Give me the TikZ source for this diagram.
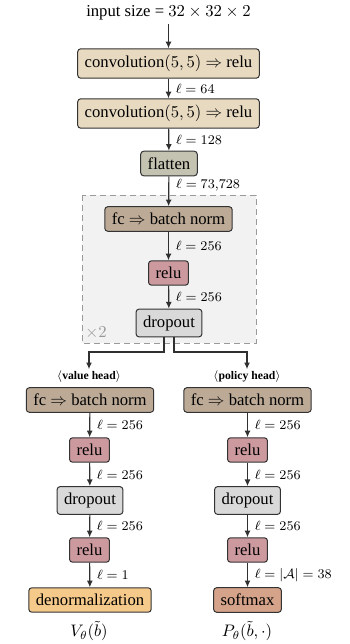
\documentclass[tikz,border=0pt]{standalone}
\usepackage[no-math]{fontspec}
\setmainfont{Liberation Serif}
\usetikzlibrary{arrows.meta}
\definecolor{cconv}{HTML}{E8D9C1}
\definecolor{cflat}{HTML}{C4C3B2}
\definecolor{cfc}{HTML}{BCAA97}
\definecolor{crelu}{HTML}{CC9A9E}
\definecolor{cdrop}{HTML}{D9D9D9}
\definecolor{cdenorm}{HTML}{F5C98A}
\definecolor{csoft}{HTML}{D4A38A}
\definecolor{cborder}{HTML}{333333}
\definecolor{cline}{HTML}{303030}
\definecolor{crep}{HTML}{F2F2F2}
\definecolor{crepline}{HTML}{9A9A9A}
\begin{document}
\begin{tikzpicture}[x=0.6pt,y=-0.6pt,
  box/.style={draw=cborder, rounded corners=1.8pt, line width=0.6pt, inner xsep=4.2pt, inner ysep=3.8pt, font=\normalsize},
  arr/.style={draw=cline, line width=0.7pt, -{Latex[length=4pt,width=3.6pt]}},
  lab/.style={font=\footnotesize, right, inner sep=2pt, xshift=2pt},
  headlab/.style={font=\scriptsize\bfseries, inner sep=1pt},
  reslab/.style={inner sep=0pt}
]
\useasboundingbox (0,0) rectangle (349,644);
% repeated block background
\draw[crepline, fill=crep, line width=0.6pt, dash pattern=on 3.5pt off 2.5pt] (82,195) rectangle (256,343);
\node[text=gray!80, anchor=west, inner sep=0pt] (rep) at (85,333) {$\times 2$};

\node[inner sep=2pt] (in) at (168.5,13) {input size = $32\times 32\times 2$};
\node[box, fill=cconv] (c1) at (168.5,63.5) {convolution$(5,5)$ $\Rightarrow$ relu};
\node[box, fill=cconv] (c2) at (168.5,113.5) {convolution$(5,5)$ $\Rightarrow$ relu};
\node[box, fill=cflat] (fl) at (169,163.5) {flatten};
\node[box, fill=cfc] (fc) at (168.5,219) {fc $\Rightarrow$ batch norm};
\node[box, fill=crelu] (r) at (168.5,273) {relu};
\node[box, fill=cdrop] (d) at (169,323) {dropout};

\draw[arr] (in) -- (c1);
\draw[arr] (c1) -- node[lab] {$\ell = 64$} (c2);
\draw[arr] (c2) -- node[lab] {$\ell = 128$} (fl);
\draw[arr] (fl) -- node[lab, pos=0.3] {$\ell = 73{,}728$} (fc);
\draw[arr] (fc) -- node[lab] {$\ell = 256$} (r);
\draw[arr] (r) -- node[lab] {$\ell = 256$} (d);

% value head
\node[headlab] (vh) at (89,377) {$\langle$value head$\rangle$};
\node[box, fill=cfc] (vfc) at (90,400) {fc $\Rightarrow$ batch norm};
\node[box, fill=crelu] (vr1) at (89.5,450) {relu};
\node[box, fill=cdrop] (vd) at (90,500.5) {dropout};
\node[box, fill=crelu] (vr2) at (89.5,550) {relu};
\node[box, fill=cdenorm] (vout) at (90,600) {denormalization};
\node[reslab] (vres) at (89,631) {$V_\theta(\tilde b)$};

% policy head
\node[headlab] (ph) at (247,377) {$\langle$policy head$\rangle$};
\node[box, fill=cfc] (pfc) at (247.5,400) {fc $\Rightarrow$ batch norm};
\node[box, fill=crelu] (pr1) at (247.5,450) {relu};
\node[box, fill=cdrop] (pd) at (247.5,500.5) {dropout};
\node[box, fill=crelu] (pr2) at (247.5,550) {relu};
\node[box, fill=csoft] (pout) at (247.5,600) {softmax};
\node[reslab] (pres) at (247,631) {$P_\theta(\tilde b,\cdot)$};

\coordinate (vturn) at (89,352);
\coordinate (pturn) at (247,352);
\draw[arr] ([xshift=-3pt]d.south) |- (vturn) -- (vh.north);
\draw[arr] ([xshift=3pt]d.south) |- (pturn) -- (ph.north);

\draw[arr] (vfc) -- node[lab] {$\ell = 256$} (vr1);
\draw[arr] (vr1) -- node[lab] {$\ell = 256$} (vd);
\draw[arr] (vd) -- node[lab] {$\ell = 256$} (vr2);
\draw[arr] (vr2) -- node[lab] {$\ell = 1$} (vout);

\draw[arr] (pfc) -- node[lab] {$\ell = 256$} (pr1);
\draw[arr] (pr1) -- node[lab] {$\ell = 256$} (pd);
\draw[arr] (pd) -- node[lab] {$\ell = 256$} (pr2);
\draw[arr] (pr2) -- node[lab] {$\ell = |\mathcal{A}| = 38$} (pout);
\end{tikzpicture}
\end{document}
